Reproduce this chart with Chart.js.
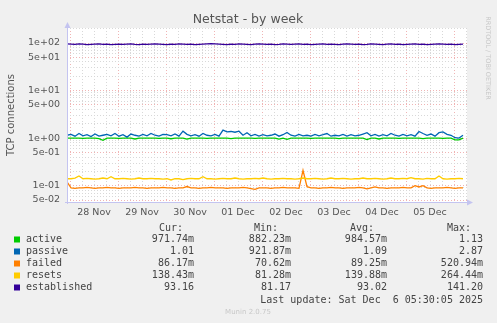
<!DOCTYPE html>
<html>
<head>
<meta charset="utf-8">
<script src="https://cdn.jsdelivr.net/npm/chart.js@4/dist/chart.umd.min.js"></script>
<style>
  html, body { margin: 0; padding: 0; background: #f0f0f0; }
  canvas { display: block; }
</style>
</head>
<body>
<canvas id="netstat-chart" width="497" height="323"></canvas>
<script>
// Netstat - by week (munin style)
// one sample every 2 hours, hour 0 = 27 Nov 22:30
const hours = Array.from({ length: 100 }, (_, i) => i * 2);

const dayLabels = ['28 Nov', '29 Nov', '30 Nov', '01 Dec', '02 Dec', '03 Dec', '04 Dec', '05 Dec'];
const yTickValues = [100, 50, 10, 5, 1, 0.5, 0.1, 0.05];
const yTickLabels = ['1e+02', '5e+01', '1e+01', '5e+00', '1e+00', '5e-01', '1e-01', '5e-02'];

const seriesNames = ['active', 'passive', 'failed', 'resets', 'established'];
const seriesColors = ['#00cc00', '#0066b3', '#ff8000', '#ffcc00', '#330099'];
const curValues = ['971.74m', '1.01', '86.17m', '138.43m', '93.16'];
const minValues = ['882.23m', '921.87m', '70.62m', '81.28m', '81.17'];
const avgValues = ['984.57m', '1.09', '89.25m', '139.88m', '93.02'];
const maxValues = ['1.13', '2.87', '520.94m', '264.44m', '141.20'];

const active = [
  1.0, 1.0, 1.0, 1.0, 0.99, 1.0, 1.0, 1.0, 0.98, 0.9, 1.0, 1.0, 1.0, 0.99, 1.0, 1.0, 1.0, 0.96, 1.0, 1.0,
  1.0, 1.0, 1.0, 0.99, 1.0, 1.0, 0.97, 1.0, 1.0, 1.0, 0.95, 1.0, 1.0, 1.0, 1.0, 0.99, 1.0, 1.0, 1.0, 1.0,
  1.0, 0.98, 1.0, 1.0, 1.0, 1.0, 1.0, 0.99, 1.0, 1.0, 1.0, 1.0, 1.0, 0.95, 1.0, 0.94, 1.0, 1.0, 1.0, 1.0,
  1.0, 0.99, 1.0, 1.0, 1.0, 1.0, 1.0, 1.0, 0.98, 1.0, 1.0, 1.0, 1.0, 1.0, 1.0, 0.93, 1.0, 1.0, 0.96, 1.0,
  1.0, 1.0, 1.0, 0.99, 1.0, 1.0, 1.0, 1.0, 1.0, 0.98, 1.0, 1.0, 1.0, 1.0, 0.99, 1.0, 1.0, 0.92, 0.92, 1.0
];
const passive = [
  1.15, 1.2, 1.1, 1.25, 1.12, 1.18, 1.08, 1.22, 1.1, 1.15, 1.2, 1.12, 1.25, 1.1, 1.18, 1.05, 1.22, 1.15, 1.1, 1.2,
  1.12, 1.25, 1.15, 1.1, 1.2, 1.18, 1.12, 1.22, 1.1, 1.4, 1.2, 1.12, 1.18, 1.1, 1.25, 1.15, 1.12, 1.2, 1.1, 1.47,
  1.35, 1.38, 1.33, 1.4, 1.15, 1.3, 1.12, 1.2, 1.1, 1.18, 1.12, 1.15, 1.22, 1.1, 1.18, 1.32, 1.15, 1.1, 1.2, 1.12,
  1.15, 1.1, 1.2, 1.12, 1.18, 1.25, 1.1, 1.15, 1.12, 1.2, 1.1, 1.18, 1.12, 1.15, 1.22, 1.3, 1.12, 1.2, 1.1, 1.18,
  1.12, 1.25, 1.15, 1.1, 1.2, 1.12, 1.18, 1.1, 1.38, 1.25, 1.15, 1.22, 1.1, 1.3, 1.35, 1.2, 1.15, 1.02, 1.0, 1.15
];
const failed = [
  0.12, 0.09, 0.088, 0.09, 0.09, 0.092, 0.09, 0.088, 0.09, 0.09, 0.092, 0.09, 0.09, 0.088, 0.09, 0.09, 0.09, 0.092, 0.09, 0.09,
  0.088, 0.09, 0.09, 0.09, 0.092, 0.09, 0.09, 0.088, 0.09, 0.09, 0.096, 0.09, 0.09, 0.088, 0.09, 0.09, 0.092, 0.09, 0.09, 0.09,
  0.088, 0.09, 0.09, 0.09, 0.092, 0.09, 0.087, 0.084, 0.09, 0.09, 0.09, 0.088, 0.09, 0.09, 0.092, 0.09, 0.09, 0.09, 0.088, 0.21,
  0.095, 0.09, 0.09, 0.088, 0.09, 0.09, 0.092, 0.09, 0.09, 0.088, 0.09, 0.09, 0.09, 0.092, 0.09, 0.086, 0.09, 0.094, 0.09, 0.09,
  0.088, 0.09, 0.09, 0.09, 0.092, 0.09, 0.09, 0.1, 0.094, 0.1, 0.09, 0.088, 0.09, 0.09, 0.09, 0.092, 0.09, 0.088, 0.09, 0.09
];
const resets = [
  0.14, 0.14, 0.145, 0.16, 0.14, 0.142, 0.14, 0.138, 0.14, 0.145, 0.14, 0.155, 0.14, 0.14, 0.142, 0.14, 0.138, 0.14, 0.145, 0.14,
  0.14, 0.142, 0.14, 0.14, 0.138, 0.14, 0.132, 0.14, 0.14, 0.134, 0.14, 0.142, 0.14, 0.14, 0.155, 0.14, 0.14, 0.138, 0.14, 0.142,
  0.14, 0.14, 0.145, 0.14, 0.138, 0.14, 0.14, 0.142, 0.14, 0.145, 0.14, 0.138, 0.14, 0.14, 0.142, 0.14, 0.14, 0.138, 0.14, 0.145,
  0.14, 0.14, 0.142, 0.14, 0.138, 0.14, 0.145, 0.14, 0.14, 0.142, 0.14, 0.138, 0.14, 0.14, 0.145, 0.14, 0.14, 0.142, 0.14, 0.138,
  0.14, 0.145, 0.14, 0.14, 0.142, 0.14, 0.148, 0.14, 0.14, 0.138, 0.142, 0.14, 0.14, 0.16, 0.14, 0.138, 0.14, 0.14, 0.142, 0.14
];
const established = [
  96, 95, 94, 96, 95, 93, 94, 95, 96, 94, 95, 93, 94, 95, 94, 95, 96, 94, 93, 95,
  94, 95, 96, 95, 94, 93, 95, 94, 96, 95, 94, 95, 93, 94, 95, 96, 97, 96, 95, 94,
  93, 95, 94, 96, 95, 94, 93, 95, 96, 95, 94, 95, 93, 94, 96, 95, 94, 95, 96, 94,
  95, 93, 94, 95, 96, 94, 95, 94, 93, 95, 96, 95, 94, 95, 93, 94, 96, 95, 94, 93,
  95, 96, 94, 95, 93, 94, 95, 96, 94, 95, 93, 94, 95, 96, 95, 94, 95, 93, 94, 95
];
const seriesData = [active, passive, failed, resets, established];

const majorGrid = 'rgba(230, 130, 130, 0.6)';
const minorGrid = '#d8d8d8';
const axisColor = '#c4c4f0';
const textColor = '#555';

function isLabeled(v) {
  return yTickValues.some(t => Math.abs(v - t) / t < 1e-6);
}

// munin draws its own texts around the plot
const muninDecor = {
  id: 'muninDecor',
  beforeDraw(chart) {
    const { ctx, chartArea: a } = chart;
    ctx.save();
    ctx.fillStyle = '#f0f0f0';
    ctx.fillRect(0, 0, chart.width, chart.height);
    ctx.fillStyle = '#fff';
    ctx.fillRect(a.left, a.top, a.right - a.left, a.bottom - a.top);
    ctx.restore();
  },
  afterDraw(chart) {
    const { ctx, chartArea: a } = chart;
    ctx.save();

    // axis lines + arrows
    ctx.strokeStyle = axisColor;
    ctx.lineWidth = 1;
    ctx.beginPath();
    ctx.moveTo(a.left + 0.5, a.top - 1);
    ctx.lineTo(a.left + 0.5, a.bottom + 2);
    ctx.moveTo(a.left - 2, a.bottom + 0.5);
    ctx.lineTo(a.right + 1, a.bottom + 0.5);
    ctx.stroke();
    ctx.fillStyle = axisColor;
    ctx.beginPath();
    ctx.moveTo(a.left + 0.5, a.top - 6);
    ctx.lineTo(a.left - 2.5, a.top);
    ctx.lineTo(a.left + 3.5, a.top);
    ctx.closePath();
    ctx.fill();
    ctx.beginPath();
    ctx.moveTo(a.right + 6, a.bottom + 0.5);
    ctx.lineTo(a.right, a.bottom - 2.5);
    ctx.lineTo(a.right, a.bottom + 3.5);
    ctx.closePath();
    ctx.fill();

    // title
    ctx.fillStyle = textColor;
    ctx.font = '12.5px "DejaVu Sans"';
    ctx.textAlign = 'center';
    ctx.textBaseline = 'alphabetic';
    ctx.fillText('Netstat - by week', 248, 23);

    // y axis title
    ctx.save();
    ctx.translate(11, (a.top + a.bottom) / 2);
    ctx.rotate(-Math.PI / 2);
    ctx.font = '10px "DejaVu Sans"';
    ctx.textBaseline = 'middle';
    ctx.fillText('TCP connections', 0, 0);
    ctx.restore();

    // rrdtool credit
    ctx.save();
    ctx.translate(488, 58);
    ctx.rotate(Math.PI / 2);
    ctx.fillStyle = '#c8c8c8';
    ctx.font = '6.5px "DejaVu Sans"';
    ctx.textBaseline = 'middle';
    ctx.fillText('RRDTOOL / TOBI OETIKER', 0, 0);
    ctx.restore();

    // legend table
    ctx.font = '10px "DejaVu Sans Mono"';
    ctx.fillStyle = '#444';
    ctx.textBaseline = 'middle';
    ctx.textAlign = 'left';
    ctx.fillText('Cur:', 159, 228);
    ctx.fillText('Min:', 254, 228);
    ctx.fillText('Avg:', 350, 228);
    ctx.fillText('Max:', 447, 228);
    seriesNames.forEach((name, i) => {
      const y = 239.5 + i * 12;
      ctx.fillStyle = seriesColors[i];
      ctx.fillRect(14, y - 3, 6, 6);
      ctx.fillStyle = '#444';
      ctx.textAlign = 'left';
      ctx.fillText(name, 26, y);
      ctx.textAlign = 'right';
      ctx.fillText(curValues[i], 194, y);
      ctx.fillText(minValues[i], 291, y);
      ctx.fillText(avgValues[i], 387, y);
      ctx.fillText(maxValues[i], 483, y);
    });
    ctx.fillText('Last update: Sat Dec  6 05:30:05 2025', 483, 300);

    ctx.textAlign = 'center';
    ctx.fillStyle = '#c8c8c8';
    ctx.font = '7px "DejaVu Sans"';
    ctx.fillText('Munin 2.0.75', 248, 312);
    ctx.restore();
  }
};

new Chart(document.getElementById('netstat-chart'), {
  type: 'line',
  data: {
    datasets: seriesData.map((vals, i) => ({
      label: seriesNames[i],
      data: vals.map((v, j) => ({ x: hours[j], y: v })),
      borderColor: seriesColors[i],
      backgroundColor: seriesColors[i],
      borderWidth: 1.3,
      pointRadius: 0,
      tension: 0,
      order: seriesNames.length - i
    }))
  },
  options: {
    responsive: false,
    animation: false,
    devicePixelRatio: 1,
    layout: { padding: { left: 0, top: 28, right: 30, bottom: 101 } },
    plugins: {
      legend: { display: false },
      tooltip: { enabled: false }
    },
    scales: {
      x: {
        type: 'linear',
        min: 0,
        max: 200,
        afterFit: s => { s.height = 20; },
        afterBuildTicks: s => {
          const t = [];
          for (let k = 0; 1.5 + 6 * k < 200; k++) t.push({ value: 1.5 + 6 * k });
          s.ticks = t;
        },
        ticks: {
          autoSkip: false,
          maxRotation: 0,
          padding: 5,
          color: textColor,
          font: { family: 'DejaVu Sans', size: 9.5 },
          callback: (v, i) => (i % 4 === 2 ? dayLabels[(i - 2) / 4] : '')
        },
        grid: {
          drawTicks: false,
          lineWidth: 1,
          color: c => (c.index % 4 === 0 ? majorGrid : minorGrid)
        },
        border: { display: false, dash: [1, 2] }
      },
      y: {
        type: 'logarithmic',
        min: 0.0454,
        max: 207,
        afterFit: s => { s.width = 67; },
        afterBuildTicks: s => {
          const t = [];
          [0.01, 0.1, 1, 10, 100].forEach(d => {
            for (let m = 1; m <= 9; m++) {
              const v = d * m;
              if (v >= s.min && v <= s.max) t.push({ value: v });
            }
          });
          s.ticks = t;
        },
        ticks: {
          autoSkip: false,
          padding: 7,
          color: textColor,
          font: { family: 'DejaVu Sans', size: 9.5 },
          callback: v => {
            const idx = yTickValues.findIndex(t => Math.abs(v - t) / t < 1e-6);
            return idx >= 0 ? yTickLabels[idx] : '';
          }
        },
        grid: {
          drawTicks: false,
          lineWidth: 1,
          color: c => (c.tick && isLabeled(c.tick.value) ? majorGrid : minorGrid)
        },
        border: { display: false, dash: [1, 2] }
      }
    }
  },
  plugins: [muninDecor]
});
</script>
</body>
</html>
